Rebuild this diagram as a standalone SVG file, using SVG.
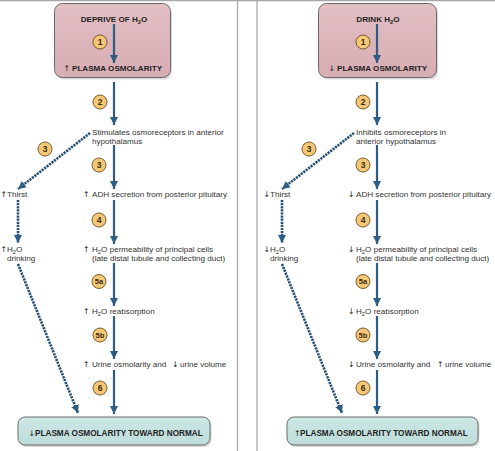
<svg xmlns="http://www.w3.org/2000/svg" width="495" height="451" viewBox="0 0 495 451">
<defs>
<marker id="ah" markerUnits="userSpaceOnUse" markerWidth="8" markerHeight="8" viewBox="0 0 8 8" refX="8" refY="4" orient="auto">
<path d="M0,0 L8,4 L0,8 Z" fill="#2d5d84"/>
</marker>
<linearGradient id="pink" x1="0" y1="0" x2="0" y2="1">
<stop offset="0" stop-color="#e2c0c5"/>
<stop offset="0.5" stop-color="#dcb5bb"/>
<stop offset="1" stop-color="#d7adb3"/>
</linearGradient>
<linearGradient id="teal" x1="0" y1="0" x2="0" y2="1">
<stop offset="0" stop-color="#cde8e6"/>
<stop offset="1" stop-color="#bddcda"/>
</linearGradient>
</defs>
<style>
.frame{stroke:#a8a8a8;stroke-width:1.3;fill:none}
.top{fill:url(#pink);stroke:#6a6a6a;stroke-width:1}
.bot{fill:url(#teal);stroke:#6a6a6a;stroke-width:1}
.shadow{fill:#000;opacity:0.15}
.arr{stroke:#2d5d84;stroke-width:2.2;fill:none;marker-end:url(#ah)}
.dash{stroke:#264f73;stroke-width:2.6;stroke-dasharray:2.2 0.9;fill:none;marker-end:url(#ah)}
.num{fill:#f5c878;stroke:#6b4b1c;stroke-width:0.9}
.nt{font-family:"Liberation Sans",Arial,sans-serif;font-size:8.5px;font-weight:bold;fill:#3a2a10;text-anchor:middle}
.t{font-family:"Liberation Sans",Arial,sans-serif;font-size:8.1px;fill:#333}
.b{font-family:"Liberation Sans",Arial,sans-serif;font-size:8.1px;font-weight:bold;fill:#222}
.bb{font-family:"Liberation Sans",Arial,sans-serif;font-size:8.2px;font-weight:bold;fill:#222}
.sym{font-family:"DejaVu Sans",sans-serif;font-size:7.8px;fill:#222}
.sub{font-size:5.8px}
</style>

<g id="frame">
<line class="frame" x1="0" y1="0.7" x2="495" y2="0.7"/>
<line class="frame" x1="237.5" y1="0" x2="237.5" y2="451"/>
<line class="frame" x1="257" y1="0" x2="257" y2="451"/>
</g>

<!-- LEFT PANEL -->
<g id="L-top">
<rect class="shadow" x="56" y="5.5" width="116" height="74" rx="8"/>
<rect class="top" x="54.5" y="3.5" width="116" height="74" rx="8"/>
<text class="b" x="114" y="22" text-anchor="middle">DEPRIVE OF H<tspan class="sub" dy="1.5">2</tspan><tspan dy="-1.5">O</tspan></text>
<text class="sym" x="63.5" y="71">↑</text>
<text class="b" x="72" y="71">PLASMA OSMOLARITY</text>
</g>
<g id="L-n2">
<text class="t" x="92" y="134.5">Stimulates osmoreceptors in anterior</text>
<text class="t" x="92" y="144">hypothalamus</text>
</g>
<g id="L-n3">
<text class="sym" x="83" y="197">↑</text>
<text class="t" x="92" y="197">ADH secretion from posterior pituitary</text>
</g>
<g id="L-thirst">
<text class="sym" x="0.5" y="197">↑</text>
<text class="t" x="7" y="197">Thirst</text>
</g>
<g id="L-n4">
<text class="sym" x="83" y="252">↑</text>
<text class="t" x="92" y="252">H<tspan class="sub" dy="1.5">2</tspan><tspan dy="-1.5">O permeability of principal cells</tspan></text>
<text class="t" x="92" y="261">(late distal tubule and collecting duct)</text>
</g>
<g id="L-drink">
<text class="sym" x="0.5" y="252">↑</text>
<text class="t" x="7" y="252">H<tspan class="sub" dy="1.5">2</tspan><tspan dy="-1.5">O</tspan></text>
<text class="t" x="7" y="261">drinking</text>
</g>
<g id="L-n5a">
<text class="sym" x="83" y="314">↑</text>
<text class="t" x="92" y="314">H<tspan class="sub" dy="1.5">2</tspan><tspan dy="-1.5">O reabsorption</tspan></text>
</g>
<g id="L-n5b">
<text class="sym" x="83" y="367">↑</text>
<text class="t" x="92" y="367">Urine osmolarity and</text>
<text class="sym" x="172" y="367">↓</text>
<text class="t" x="180" y="367">urine volume</text>
</g>
<g id="L-bot">
<rect class="shadow" x="19.5" y="419" width="192" height="28" rx="7"/>
<rect class="bot" x="18" y="417" width="192" height="28" rx="7"/>
<text class="sym" x="28.5" y="435.5">↓</text>
<text class="bb" x="35" y="435.5">PLASMA OSMOLARITY TOWARD NORMAL</text>
</g>

<!-- RIGHT PANEL -->
<g id="R-top">
<rect class="shadow" x="320" y="5.5" width="118" height="74" rx="8"/>
<rect class="top" x="318.5" y="3.5" width="118" height="74" rx="8"/>
<text class="b" x="378" y="22" text-anchor="middle">DRINK H<tspan class="sub" dy="1.5">2</tspan><tspan dy="-1.5">O</tspan></text>
<text class="sym" x="328.5" y="71">↓</text>
<text class="b" x="337" y="71">PLASMA OSMOLARITY</text>
</g>
<g id="R-n2">
<text class="t" x="356" y="134.5">Inhibits osmoreceptors in</text>
<text class="t" x="356" y="144">anterior hypothalamus</text>
</g>
<g id="R-n3">
<text class="sym" x="348" y="197">↓</text>
<text class="t" x="356" y="197">ADH secretion from posterior pituitary</text>
</g>
<g id="R-thirst">
<text class="sym" x="263.5" y="197">↓</text>
<text class="t" x="270" y="197">Thirst</text>
</g>
<g id="R-n4">
<text class="sym" x="348" y="252">↓</text>
<text class="t" x="356" y="252">H<tspan class="sub" dy="1.5">2</tspan><tspan dy="-1.5">O permeability of principal cells</tspan></text>
<text class="t" x="356" y="261">(late distal tubule and collecting duct)</text>
</g>
<g id="R-drink">
<text class="sym" x="263.5" y="252">↓</text>
<text class="t" x="270" y="252">H<tspan class="sub" dy="1.5">2</tspan><tspan dy="-1.5">O</tspan></text>
<text class="t" x="270" y="261">drinking</text>
</g>
<g id="R-n5a">
<text class="sym" x="348" y="314">↓</text>
<text class="t" x="356" y="314">H<tspan class="sub" dy="1.5">2</tspan><tspan dy="-1.5">O reabsorption</tspan></text>
</g>
<g id="R-n5b">
<text class="sym" x="348" y="367">↓</text>
<text class="t" x="356" y="367">Urine osmolarity and</text>
<text class="sym" x="437" y="367">↑</text>
<text class="t" x="445" y="367">urine volume</text>
</g>
<g id="R-bot">
<rect class="shadow" x="288.5" y="419" width="191" height="28" rx="7"/>
<rect class="bot" x="287" y="417" width="191" height="28" rx="7"/>
<text class="sym" x="294" y="435.5">↑</text>
<text class="bb" x="300" y="435.5">PLASMA OSMOLARITY TOWARD NORMAL</text>
</g>

<!-- CONNECTORS -->
<g id="connectors">
<line class="arr" x1="114" y1="24" x2="114" y2="63"/>
<line class="arr" x1="114" y1="82" x2="114" y2="125"/>
<line class="arr" x1="114" y1="145" x2="114" y2="189"/>
<line class="arr" x1="114" y1="200" x2="114" y2="244"/>
<line class="arr" x1="114" y1="263" x2="114" y2="306"/>
<line class="arr" x1="114" y1="316" x2="114" y2="359"/>
<line class="arr" x1="114" y1="370" x2="114" y2="414"/>
<line class="dash" x1="90" y1="133" x2="18" y2="189"/>
<line class="dash" x1="18" y1="200" x2="18" y2="243"/>
<line class="dash" x1="18" y1="264" x2="78" y2="413"/>

<line class="arr" x1="377" y1="24" x2="377" y2="63"/>
<line class="arr" x1="377" y1="82" x2="377" y2="125"/>
<line class="arr" x1="377" y1="145" x2="377" y2="189"/>
<line class="arr" x1="377" y1="200" x2="377" y2="244"/>
<line class="arr" x1="377" y1="263" x2="377" y2="306"/>
<line class="arr" x1="377" y1="316" x2="377" y2="359"/>
<line class="arr" x1="377" y1="370" x2="377" y2="414"/>
<line class="dash" x1="354" y1="133" x2="282" y2="189"/>
<line class="dash" x1="282" y1="200" x2="282" y2="243"/>
<line class="dash" x1="282" y1="264" x2="342" y2="413"/>
</g>

<!-- STEP BADGES -->
<g id="badges">
<g id="L-b1"><circle class="num" cx="100" cy="42" r="7"/><text class="nt" x="100" y="45">1</text></g>
<g id="L-b2"><circle class="num" cx="100" cy="102" r="7"/><text class="nt" x="100" y="105">2</text></g>
<g id="L-b3s"><circle class="num" cx="45" cy="149" r="7"/><text class="nt" x="45" y="152">3</text></g>
<g id="L-b3"><circle class="num" cx="99" cy="165" r="7"/><text class="nt" x="99" y="168">3</text></g>
<g id="L-b4"><circle class="num" cx="99" cy="220" r="7"/><text class="nt" x="99" y="223">4</text></g>
<g id="L-b5a"><circle class="num" cx="99" cy="281.5" r="7"/><text class="nt" x="99" y="284.3" style="font-size:7.5px">5a</text></g>
<g id="L-b5b"><circle class="num" cx="100" cy="335" r="7"/><text class="nt" x="100" y="337.8" style="font-size:7.5px">5b</text></g>
<g id="L-b6"><circle class="num" cx="100" cy="388" r="7"/><text class="nt" x="100" y="391">6</text></g>

<g id="R-b1"><circle class="num" cx="363" cy="42" r="7"/><text class="nt" x="363" y="45">1</text></g>
<g id="R-b2"><circle class="num" cx="363" cy="102" r="7"/><text class="nt" x="363" y="105">2</text></g>
<g id="R-b3s"><circle class="num" cx="309" cy="149" r="7"/><text class="nt" x="309" y="152">3</text></g>
<g id="R-b3"><circle class="num" cx="363" cy="165" r="7"/><text class="nt" x="363" y="168">3</text></g>
<g id="R-b4"><circle class="num" cx="363" cy="220" r="7"/><text class="nt" x="363" y="223">4</text></g>
<g id="R-b5a"><circle class="num" cx="363" cy="281.5" r="7"/><text class="nt" x="363" y="284.3" style="font-size:7.5px">5a</text></g>
<g id="R-b5b"><circle class="num" cx="363" cy="335" r="7"/><text class="nt" x="363" y="337.8" style="font-size:7.5px">5b</text></g>
<g id="R-b6"><circle class="num" cx="363" cy="388" r="7"/><text class="nt" x="363" y="391">6</text></g>
</g>
</svg>
